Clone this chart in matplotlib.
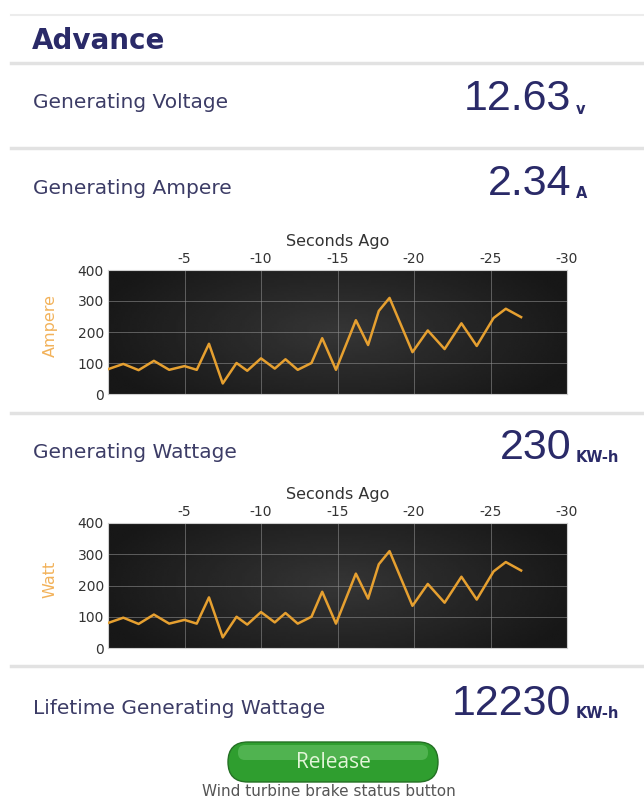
import numpy as np
import matplotlib
matplotlib.use("Agg")
import matplotlib.pyplot as plt
from matplotlib.patches import FancyBboxPatch

plt.rcParams["font.family"] = ["DejaVu Sans"]

# ---- values -------------------------------------------------------------
title = "Advance"
readings = [
    ("Generating Voltage", "12.63", "v"),
    ("Generating Ampere", "2.34", "A"),
    ("Generating Wattage", "230", "KW-h"),
    ("Lifetime Generating Wattage", "12230", "KW-h"),
]
secs_ago = [0.0, -1.0, -2.0, -3.0, -4.0, -5.0, -5.8, -6.6, -7.5, -8.4,
            -9.1, -10.0, -10.9, -11.6, -12.4, -13.3, -14.0, -14.9, -16.2, -17.0,
            -17.7, -18.4, -19.9, -20.9, -22.0, -23.1, -24.1, -25.2, -26.0, -27.0]
ampere = [80, 97, 77, 107, 78, 90, 78, 162, 34, 100,
          75, 115, 82, 112, 78, 100, 180, 78, 238, 158,
          268, 310, 135, 205, 145, 228, 155, 245, 275, 248]
watt = [80, 97, 77, 107, 78, 90, 78, 162, 34, 100,
        75, 115, 82, 112, 78, 100, 180, 78, 238, 158,
        268, 310, 135, 205, 145, 228, 155, 245, 275, 248]
x_ticks = [-5, -10, -15, -20, -25, -30]
y_ticks = [0, 100, 200, 300, 400]

W, H = 644, 799
NAVY = "#2a2a68"
LABEL = "#3c3c66"
ORANGE = "#e6a030"

fig = plt.figure(figsize=(W / 100, H / 100), dpi=100)
fig.patch.set_facecolor("white")


def fx(x):
    return x / W


def fy(y):
    return 1 - y / H


def sep(y, lw=2.5, col="#e2e2e2"):
    fig.add_artist(plt.Line2D([fx(11), 1], [fy(y), fy(y)], color=col, lw=lw))


# section separators
sep(15, lw=1.5, col="#ececec")
for y in (63, 148, 413, 666):
    sep(y)

fig.text(fx(32), fy(41), title, fontsize=20, fontweight="bold", color=NAVY,
         va="center", ha="left")

label_y = [103, 188, 452, 708]
for (lab, val, unit), y in zip(readings, label_y):
    fig.text(fx(33), fy(y), lab, fontsize=14.5, color=LABEL, va="center", ha="left")
    fig.text(fx(571), fy(y - 4), val, fontsize=31, color=NAVY, va="center", ha="right",
             family=["Liberation Sans", "DejaVu Sans"])
    fig.text(fx(576), fy(y + 6), unit, fontsize=10.5, fontweight="bold", color=NAVY,
             va="center", ha="left")


def chart(top, bottom, vals, ylab):
    ax = fig.add_axes([fx(108), fy(bottom), fx(567) - fx(108), fy(top) - fy(bottom)])
    # dark background, a bit lighter in the middle
    gx = np.linspace(-1, 1, 200)
    gy = np.linspace(-1, 1, 60)
    X, Y = np.meshgrid(gx, gy)
    shade = 0.21 - 0.12 * np.clip(np.sqrt((X / 1.1) ** 2 + (Y / 1.6) ** 2), 0, 1)
    ax.imshow(shade, extent=[0, -30, 0, 400], aspect="auto", cmap="gray",
              vmin=0, vmax=1, zorder=0, interpolation="bilinear")
    ax.set_xlim(0, -30)
    ax.set_ylim(0, 400)
    for t in x_ticks[:-1]:
        ax.axvline(t, color="#8a8a8a", lw=0.7, alpha=0.6, zorder=1)
    for t in y_ticks[1:-1]:
        ax.axhline(t, color="#8a8a8a", lw=0.7, alpha=0.6, zorder=1)
    ax.plot(secs_ago, vals, color=ORANGE, lw=1.8, zorder=3)
    ax.xaxis.tick_top()
    ax.xaxis.set_label_position("top")
    ax.set_xticks(x_ticks)
    ax.set_xticklabels([str(t) for t in x_ticks])
    ax.set_yticks(y_ticks)
    ax.tick_params(length=0, labelsize=10, labelcolor="#333333", pad=3)
    ax.set_xlabel("Seconds Ago", fontsize=11.5, color="#333333", labelpad=4)
    for s in ax.spines.values():
        s.set_color("#cfcfcf")
        s.set_linewidth(0.8)
    fig.text(fx(50), (fy(top) + fy(bottom)) / 2 + 0.008, ylab, rotation=90,
             fontsize=11.5, color="#f2b25a", ha="center", va="center")
    return ax


chart(270, 394, ampere, "Ampere")
chart(523, 648, watt, "Watt")

# release button
bax = fig.add_axes([0, 0, 1, 1], zorder=5)
bax.set_xlim(0, W)
bax.set_ylim(H, 0)
bax.axis("off")
btn = FancyBboxPatch((228, 742), 210, 40, boxstyle="round,pad=0,rounding_size=20",
                     facecolor="#2f9e2f", edgecolor="#247024", lw=1.0)
bax.add_patch(btn)
hl = FancyBboxPatch((238, 745), 190, 15, boxstyle="round,pad=0,rounding_size=7",
                    facecolor="#8fdc8f", edgecolor="none", alpha=0.35)
bax.add_patch(hl)
bax.text(333, 763, "Release", fontsize=15, color="#e2f5d8", ha="center", va="center",
         family=["Open Sans", "DejaVu Sans"])
bax.text(329, 792, "Wind turbine brake status button", fontsize=11, color="#555555",
         ha="center", va="center")

fig.savefig("out.png", dpi=100)
